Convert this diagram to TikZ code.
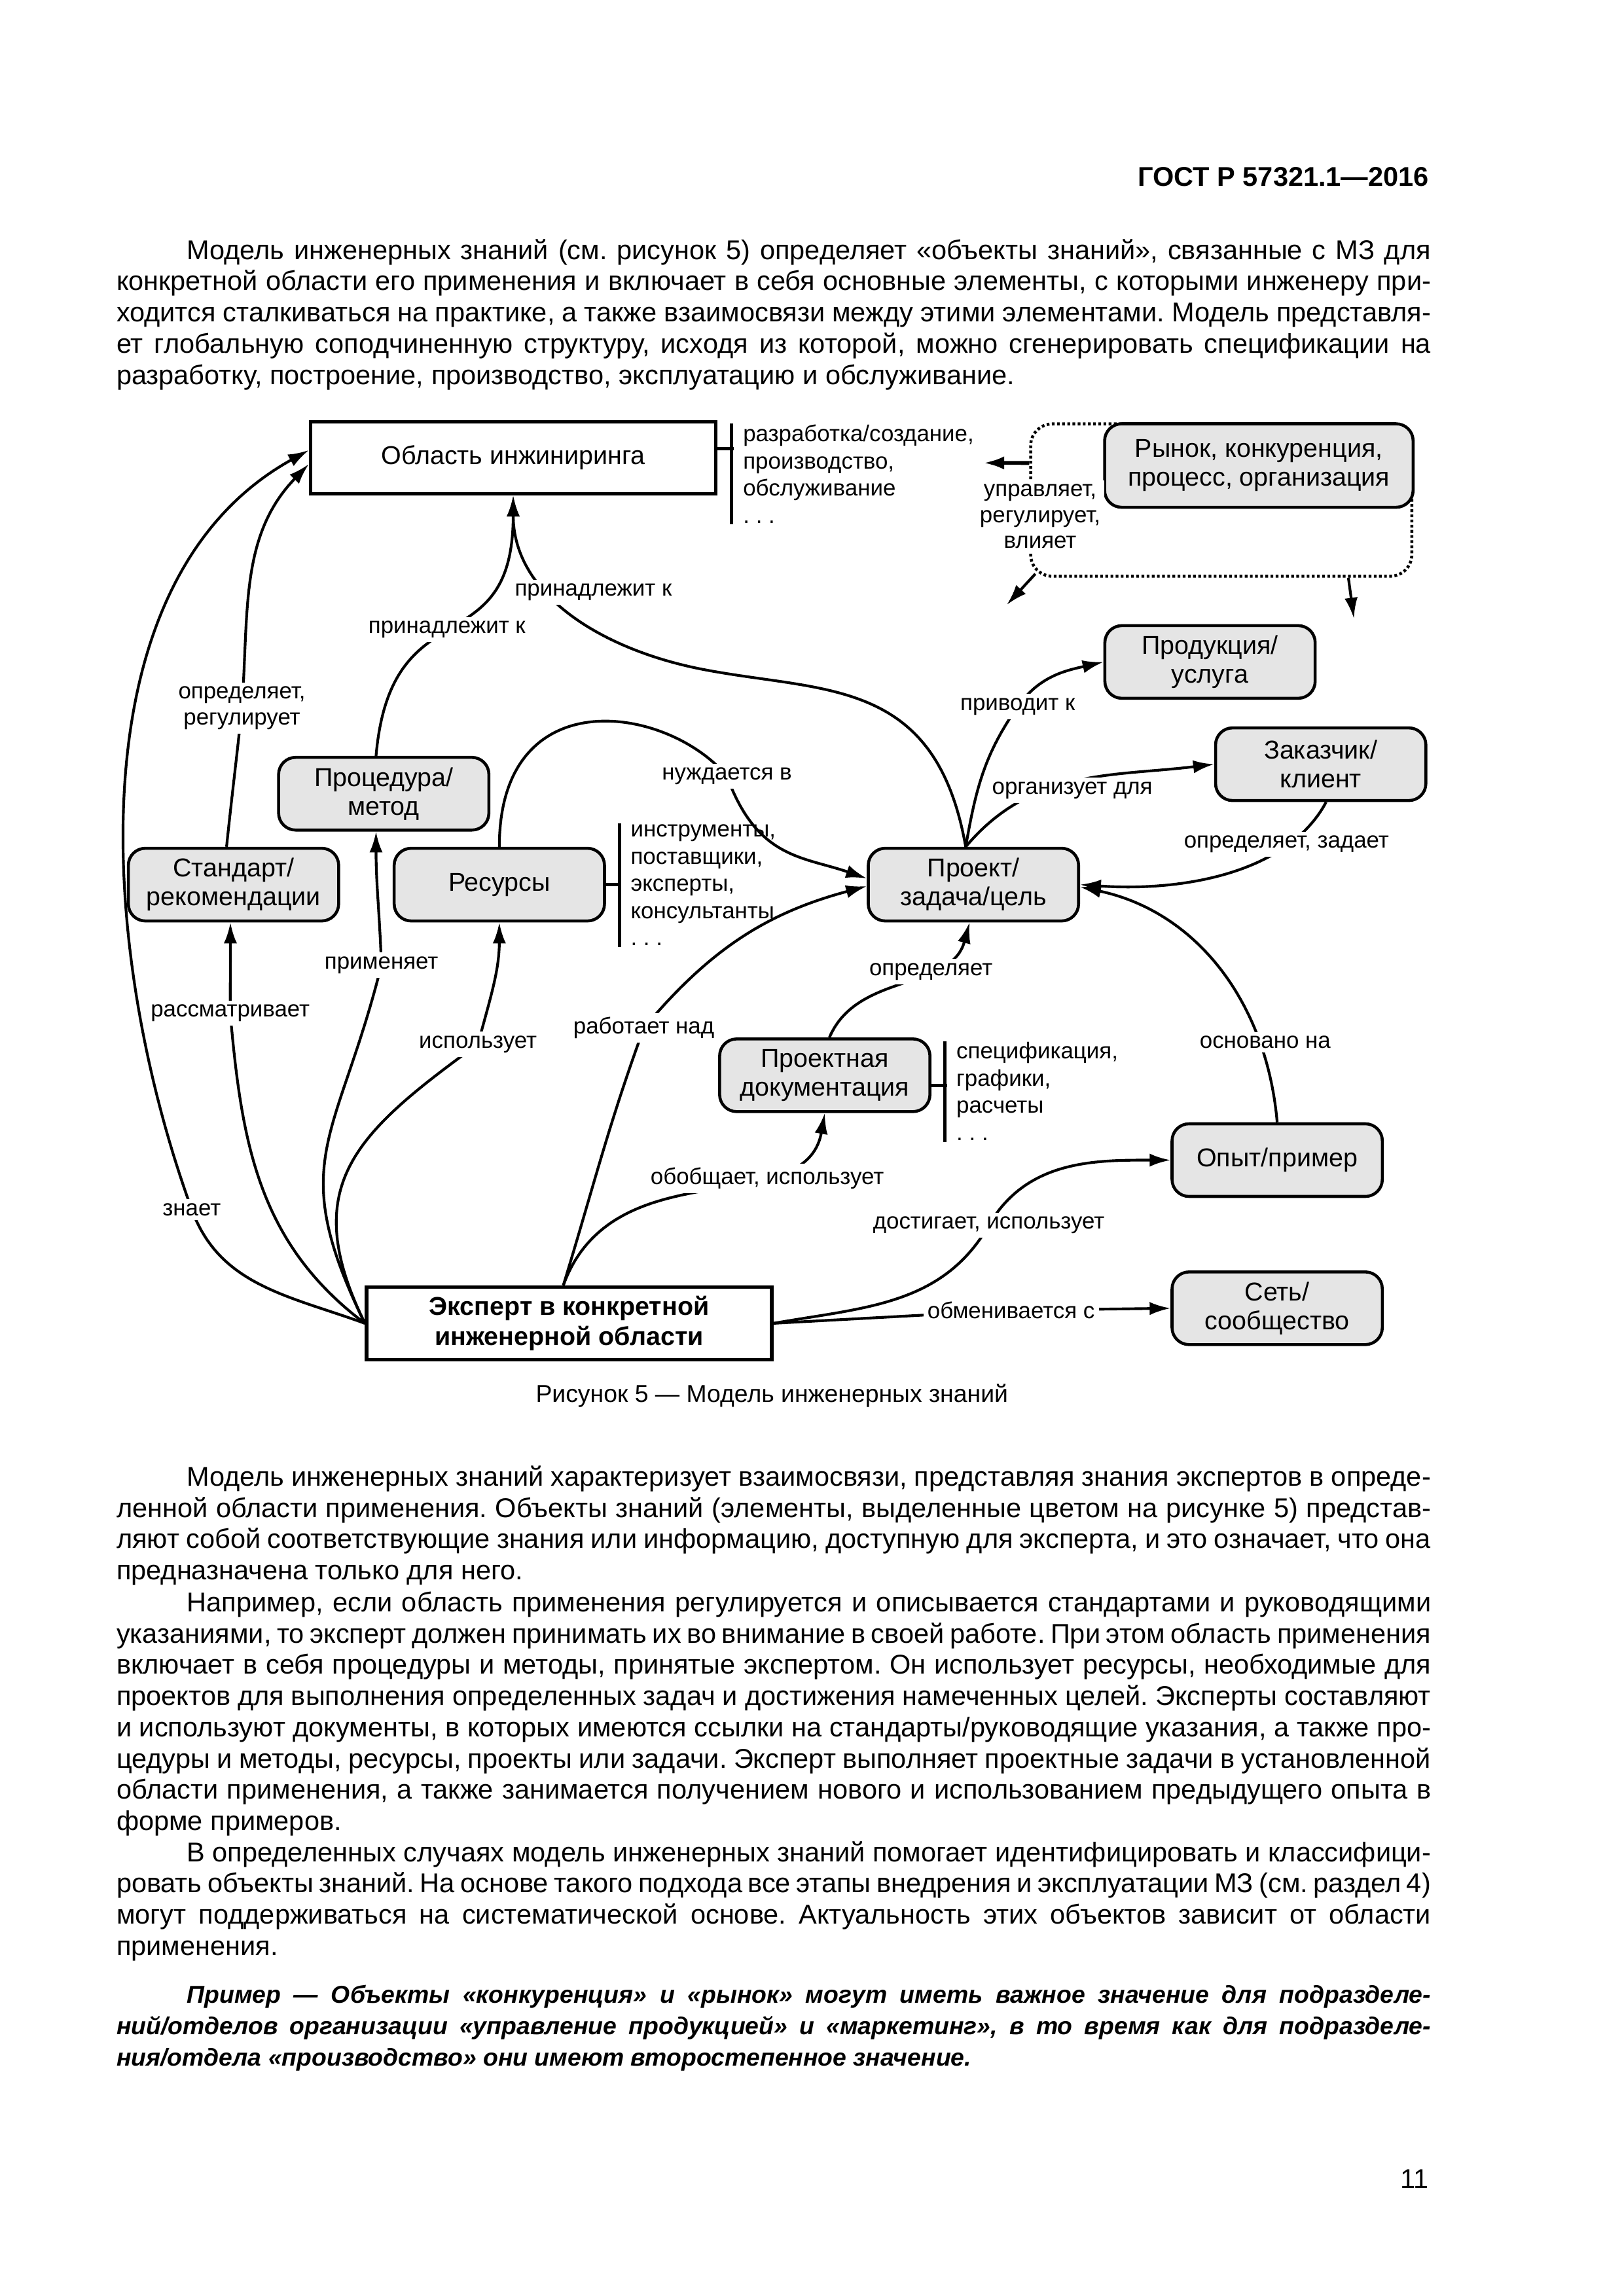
\documentclass[tikz,border=0pt]{standalone}
\usepackage{fontspec}
\setmainfont{Liberation Sans}
\usetikzlibrary{arrows.meta,backgrounds}
\tikzset{>={Latex[length=2.7mm,width=1.7mm]}}
\definecolor{objgray}{gray}{0.9}
\newcommand{\bodyfont}{\fontsize{10}{11.5}\selectfont}
\newcommand{\objfont}{\fontsize{9.5}{10.6}\selectfont}
\newcommand{\lblfont}{\fontsize{8.4}{9.5}\selectfont}
\newcommand{\lstfont}{\fontsize{8.4}{10}\selectfont}
\newcommand{\jline}[1]{\makebox[170mm][s]{#1}}
\newcommand{\pind}{\hspace*{9.1mm}}
\newcommand{\sdots}{.\hspace{0.28em}.\hspace{0.28em}.}

\begin{document}
\frenchspacing
\begin{tikzpicture}[x=0.190909mm, y=-0.190874mm,
  obj/.style={draw, line width=1.1pt, fill=objgray, rounded corners=2.2mm, minimum width=27.2mm, minimum height=9.4mm, align=center, font=\objfont, inner sep=1pt},
  area/.style={draw, line width=1.3pt, fill=white, minimum width=52.4mm, minimum height=9.3mm, align=center, font=\objfont},
  zone/.style={draw, line width=1.1pt, dash pattern=on 1pt off 0.9pt, rounded corners=2.8mm, minimum width=49.3mm, minimum height=19.7mm},
  lbl/.style={fill=white, inner sep=1.5pt, align=center, font=\lblfont},
  lst/.style={anchor=north west, inner xsep=1.4mm, inner ysep=0.3pt, align=left, font=\lstfont},
  brk/.style={line width=1.2pt},
  conn/.style={line width=1pt, ->},
  para/.style={anchor=base west, inner sep=0pt, align=left, font=\bodyfont}]
\useasboundingbox (0,0) rectangle (1100,1556);

\node[anchor=base east, inner sep=0pt, font=\bodyfont\bfseries] (head) at (968.4,126.4) {ГОСТ Р 57321.1—2016};

\node[para] (p1) at (78.6,260.4) {%
\jline{\pind Модель инженерных знаний (см. рисунок 5) определяет «объекты знаний», связанные с МЗ для}\\
\jline{конкретной области его применения и включает в себя основные элементы, с которыми инженеру при-}\\
\jline{ходится сталкиваться на практике, а также взаимосвязи между этими элементами. Модель представля-}\\
\jline{ет глобальную соподчиненную структуру, исходя из которой, можно сгенерировать спецификации на}\\
разработку, построение, производство, эксплуатацию и обслуживание.};

\node[area] (obl) at (347.7,310.3) {Область инжиниринга};
\node[area, font=\fontsize{9.5}{11}\selectfont\bfseries, minimum height=9.2mm] (exp) at (385.6,896.8) {Эксперт в конкретной\\инженерной области};
\node[zone] (zone) at (827.4,338.9) {};
\node[obj, minimum width=39.9mm, minimum height=10.8mm] (rynok) at (852.9,315.5) {Рынок, конкуренция,\\процесс, организация};
\node[obj] (prod) at (819.8,448.6) {Продукция/\\услуга};
\node[obj] (zak) at (894.8,517.9) {Заказчик/\\клиент};
\node[obj] (proekt) at (659.5,599.5) {Проект/\\задача/цель};
\node[obj] (doc) at (558.8,728.7) {Проектная\\документация};
\node[obj] (opyt) at (865.3,786.2) {Опыт/пример};
\node[obj] (net) at (865.3,886.6) {Сеть/\\сообщество};
\node[obj] (std) at (158.2,599.5) {Стандарт/\\рекомендации};
\node[obj] (proc) at (260,537.9) {Процедура/\\метод};
\node[obj] (res) at (338.3,599.5) {Ресурсы};

\node[lst] (oblL) at (495.8,287) {разработка/создание,\\производство,\\обслуживание\\\sdots};
\node[lst] (resL) at (419.6,558) {инструменты,\\поставщики,\\эксперты,\\консультанты\\\sdots};
\node[lst] (docL) at (640.3,705.5) {спецификация,\\графики,\\расчеты\\\sdots};
\draw[brk] (oblL.north west) -- (oblL.south west);
\draw[brk] (resL.north west) -- (resL.south west);
\draw[brk] (docL.north west) -- (docL.south west);
\draw[brk] ([yshift=1.2mm]obl.east) -- ++(2.1mm,0);
\draw[brk] (res.east) -- ++(1.9mm,0);
\draw[brk] ([yshift=-1.3mm]doc.east) -- ++(2mm,0);

\node[lbl] (znaet) at (129.9,819.6) {знает};
\node[lbl] (rassm) at (156,686.7) {рассматривает};
\node[lbl] (opred) at (163.9,479.8) {определяет,\\регулирует};
\node[lbl] (primen) at (258.4,654) {применяет};
\node[lbl] (ispolz) at (323.8,707.6) {использует};
\node[lbl] (rabot) at (436.2,696.7) {работает над};
\node[lbl] (obob) at (519.8,798.6) {обобщает, использует};
\node[lbl] (dost) at (669.9,830.4) {достигает, использует};
\node[lbl] (obmen) at (685,888) {обменивается с};
\node[lbl] (nuzhd) at (492.5,526) {нуждается в};
\node[lbl] (prin1) at (302.8,426.6) {принадлежит к};
\node[lbl] (prin2) at (402,401.4) {принадлежит к};
\node[lbl] (privod) at (689.5,478.9) {приводит к};
\node[lbl] (organ) at (726.5,535.5) {организует для};
\node[lbl] (opzad) at (871.6,572.1) {определяет, задает};
\node[lbl] (osnov) at (857.2,706.3) {основано на};
\node[lbl] (opr) at (630.7,658.4) {определяет};
\node[lbl] (uprav) at (704.7,350) {управляет,\\регулирует,\\влияет};

\coordinate (bend) at (476,453.6);
\coordinate (uL) at (666.2,313.7);
\coordinate (uSW) at (682.1,409.9);
\coordinate (uS) at (917.3,419.2);

\begin{pgfonlayer}{background}
\fill[white] (0,0) rectangle (1100,1556);
\draw[conn] (exp.west) to[out=160,in=-70] (znaet.center) to[out=110,in=-151,looseness=0.9] ([yshift=1mm]obl.west);
\draw[conn] (exp.west) to[out=143,in=-85] (rassm.center) to[out=90,in=-90] ([xshift=-0.4mm]std.south);
\draw[conn] ([xshift=-0.9mm]std.north) to[out=84,in=-96] (opred.center) to[out=86,in=-134] ([yshift=-0.8mm]obl.west);
\draw[conn] (exp.west) to[out=116,in=-104,looseness=1.3] (primen.center) to[out=92,in=-90] ([xshift=-1mm]proc.south);
\draw[conn] (exp.west) to[out=116,in=-144,looseness=1.3] (ispolz.center) to[out=75,in=-90] (res.south);
\draw[conn] ([xshift=-0.75mm]exp.north) to[out=73,in=-110] (rabot.center) to[out=50,in=-165] ([yshift=-0.2mm]proekt.west);
\draw[conn] ([xshift=-0.75mm]exp.north) to[out=70,in=-100,out looseness=1.2,in looseness=0.9] (doc.south);
\draw[conn] (exp.east) to[out=10,in=-120] (dost.center) to[out=60,in=180] (opyt.west);
\draw[conn] (exp.east) -- (obmen.center) -- (net.west);
\draw[conn] (res.north) to[out=90,in=130,out looseness=1.8] (nuzhd.center) to[out=-70,in=161,out looseness=1.3] ([yshift=0.8mm]proekt.west);
\draw[conn] ([xshift=-1mm]proc.north) to[out=85,in=-90,looseness=1.5] (obl.south);
\draw[conn] ([xshift=-1mm]proekt.north) to[out=100,in=-11,out looseness=1.4] (bend) to[out=169,in=-90] (obl.south);
\draw[conn] ([xshift=-1mm]proekt.north) to[out=80,in=-125] (privod.center) to[out=55,in=-167] (prod.west);
\draw[conn] ([xshift=-1mm]proekt.north) to[out=50,in=-173] (zak.west);
\draw[conn] ([xshift=0.7mm]zak.south) to[out=-118,in=-4,out looseness=0.8] (proekt.east);
\draw[conn] (opyt.north) to[out=95,in=-12] ([yshift=-0.3mm]proekt.east);
\draw[conn] ([xshift=0.6mm]doc.north) to[out=67,in=-105] ([xshift=-0.5mm]proekt.south);
\draw[conn, line width=1.4pt] ([yshift=4.8mm]zone.west) -- (uL);
\draw[conn] ([xshift=0.8mm,yshift=0.5mm]zone.south west) -- (uSW);
\draw[conn] ([xshift=-8.4mm]zone.south east) -- (uS);
\end{pgfonlayer}

\node[anchor=base, inner sep=0pt, font=\fontsize{9}{10}\selectfont] (cap) at (523,950.2) {Рисунок 5 — Модель инженерных знаний};

\node[para] (p2) at (78.6,1070.6) {%
\jline{\pind Модель инженерных знаний характеризует взаимосвязи, представляя знания экспертов в опреде-}\\
\jline{ленной области применения. Объекты знаний (элементы, выделенные цветом на рисунке 5) представ-}\\
\jline{ляют собой соответствующие знания или информацию, доступную для эксперта, и это означает, что она}\\
предназначена только для него.};

\node[para] (p3) at (78.6,1240.4) {%
\jline{\pind Например, если область применения регулируется и описывается стандартами и руководящими}\\
\jline{указаниями, то эксперт должен принимать их во внимание в своей работе. При этом область применения}\\
\jline{включает в себя процедуры и методы, принятые экспертом. Он использует ресурсы, необходимые для}\\
\jline{проектов для выполнения определенных задач и достижения намеченных целей. Эксперты составляют}\\
\jline{и используют документы, в которых имеются ссылки на стандарты/руководящие указания, а также про-}\\
\jline{цедуры и методы, ресурсы, проекты или задачи. Эксперт выполняет проектные задачи в установленной}\\
\jline{области применения, а также занимается получением нового и использованием предыдущего опыта в}\\
форме примеров.};

\node[para] (p4) at (78.6,1325) {%
\jline{\pind В определенных случаях модель инженерных знаний помогает идентифицировать и классифици-}\\
\jline{ровать объекты знаний. На основе такого подхода все этапы внедрения и эксплуатации МЗ (см. раздел 4)}\\
\jline{могут поддерживаться на систематической основе. Актуальность этих объектов зависит от области}\\
применения.};

\node[para, font=\fontsize{9}{11.5}\selectfont\bfseries\itshape] (ex) at (78.6,1400) {%
\jline{\pind Пример — Объекты «конкуренция» и «рынок» могут иметь важное значение для подразделе-}\\
\jline{ний/отделов организации «управление продукцией» и «маркетинг», в то время как для подразделе-}\\
ния/отдела «производство» они имеют второстепенное значение.};

\node[anchor=base east, inner sep=0pt, font=\bodyfont] (pnum) at (968.4,1483) {11};
\end{tikzpicture}
\end{document}
